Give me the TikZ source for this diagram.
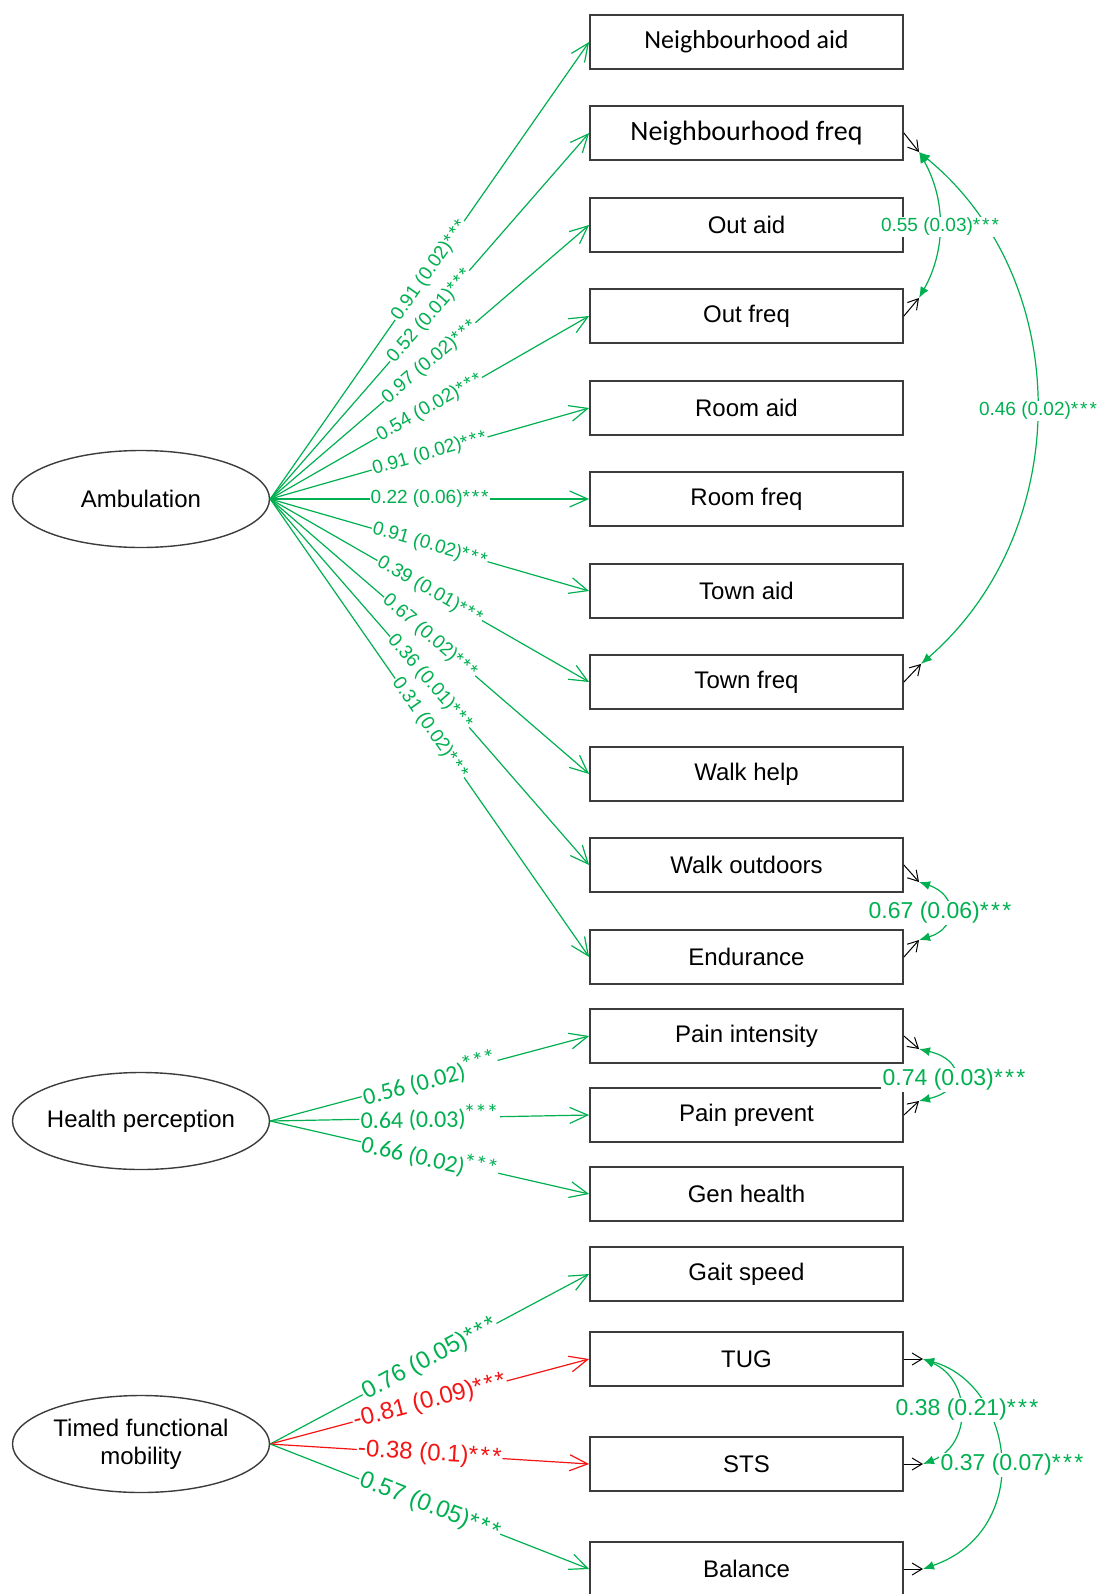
\documentclass[tikz,border=0pt]{standalone}
\usepackage{fontspec}
\setmainfont{Liberation Sans}
\newfontfamily\calib{Carlito}
\usetikzlibrary{arrows.meta,shapes.geometric}
\definecolor{sgreen}{RGB}{0,176,80}
\definecolor{sred}{RGB}{245,20,20}
\definecolor{boxgray}{RGB}{60,60,60}
\newcommand{\stars}{*\kern0.1em*\kern0.1em*}
\newcommand{\hstars}{\kern-0.08em\raisebox{0.22em}{*\kern-0.02em*\kern-0.02em*}}
\begin{document}
\begin{tikzpicture}[x=0.5pt,y=-0.5pt,
  obs/.style={draw=boxgray,line width=0.9pt,rectangle,minimum width=156.5pt,minimum height=27pt,inner sep=0pt,font=\fontsize{12}{14}\selectfont},
  lat/.style={draw=boxgray,line width=0.7pt,ellipse,minimum width=128.5pt,minimum height=48.5pt,inner sep=0pt,align=center,font=\fontsize{12}{14}\selectfont},
  load/.style={draw=sgreen,line width=0.6pt,-{Straight Barb[length=9pt,width=8pt]}},
  negload/.style={draw=sred,line width=0.6pt,-{Straight Barb[length=9pt,width=8pt]}},
  lab/.style={sloped,pos=0.5,fill=white,inner sep=0.6pt,text=sgreen},
  ambl/.style={lab,font=\fontsize{9.5}{11}\selectfont},
  hpl/.style={lab,font=\calib\fontsize{12}{14}\selectfont},
  tfl/.style={lab,font=\fontsize{12}{14}\selectfont},
  tfr/.style={tfl,text=sred},
  res/.style={draw=black,line width=0.5pt,-{Straight Barb[length=5pt,width=6pt]}},
  cov/.style={draw=sgreen,line width=0.6pt,{Latex[length=5.5pt,width=4.5pt]}-{Latex[length=5.5pt,width=4.5pt]}},
  covs/.style={fill=white,inner sep=0.6pt,text=sgreen,font=\fontsize{9.5}{11}\selectfont},
  covb/.style={fill=white,inner sep=0.6pt,text=sgreen,font=\fontsize{11.5}{13}\selectfont}
]
\useasboundingbox (0,0) rectangle (1101,1594);

% observed variables
\node[obs,font=\calib\fontsize{13}{15}\selectfont] (na) at (746.5,42) {Neighbourhood aid};
\node[obs,font=\calib\fontsize{14}{16}\selectfont] (nf) at (746.5,133) {Neighbourhood freq};
\node[obs] (oa) at (746.5,225) {Out aid};
\node[obs] (of) at (746.5,316) {Out freq};
\node[obs] (ra) at (746.5,408) {Room aid};
\node[obs] (rf) at (746.5,499) {Room freq};
\node[obs] (ta) at (746.5,591) {Town aid};
\node[obs] (tf) at (746.5,682) {Town freq};
\node[obs] (wh) at (746.5,774) {Walk help};
\node[obs] (wo) at (746.5,865) {Walk outdoors};
\node[obs] (en) at (746.5,957) {Endurance};
\node[obs] (pi) at (746.5,1036) {Pain intensity};
\node[obs] (pp) at (746.5,1115) {Pain prevent};
\node[obs] (gh) at (746.5,1194) {Gen health};
\node[obs] (gs) at (746.5,1274) {Gait speed};
\node[obs] (tug) at (746.5,1359) {TUG};
\node[obs] (sts) at (746.5,1464) {STS};
\node[obs] (bal) at (746.5,1569) {Balance};

% latent variables
\node[lat] (amb) at (141,499) {\makebox[80pt]{Ambulation}};
\node[lat] (hp) at (141,1121) {\makebox[80pt]{Health perception}};
\node[lat] (tfm) at (141,1444) {Timed functional\\mobility};

% loadings: Ambulation
\draw[load] (amb.east) -- node[ambl]{0.91 (0.02)\stars} (na.west);
\draw[load] (amb.east) -- node[ambl]{0.52 (0.01)\stars} (nf.west);
\draw[load] (amb.east) -- node[ambl]{0.97 (0.02)\stars} (oa.west);
\draw[load] (amb.east) -- node[ambl]{0.54 (0.02)\stars} (of.west);
\draw[load] (amb.east) -- node[ambl]{0.91 (0.02)\stars} (ra.west);
\draw[load] (amb.east) -- node[ambl]{0.22 (0.06)\stars} (rf.west);
\draw[load] (amb.east) -- node[ambl]{0.91 (0.02)\stars} (ta.west);
\draw[load] (amb.east) -- node[ambl]{0.39 (0.01)\stars} (tf.west);
\draw[load] (amb.east) -- node[ambl]{0.67 (0.02)\stars} (wh.west);
\draw[load] (amb.east) -- node[ambl]{0.36 (0.01)\stars} (wo.west);
\draw[load] (amb.east) -- node[ambl]{0.31 (0.02)\stars} (en.west);

% loadings: Health perception
\draw[load] (hp.east) -- node[hpl]{0.56 (0.02)\hstars} (pi.west);
\draw[load] (hp.east) -- node[hpl]{0.64 (0.03)\hstars} (pp.west);
\draw[load] (hp.east) -- node[hpl]{0.66 (0.02)\hstars} (gh.west);

% loadings: Timed functional mobility
\draw[load] (tfm.east) -- node[tfl]{0.76 (0.05)\stars} (gs.west);
\draw[negload] (tfm.east) -- node[tfr]{-0.81 (0.09)\stars} (tug.west);
\draw[negload] (tfm.east) -- node[tfr]{-0.38 (0.1)\stars} (sts.west);
\draw[load] (tfm.east) -- node[tfl]{0.57 (0.05)\stars} (bal.west);

% residual stubs
\coordinate (cNf) at (919,152);
\coordinate (cOf) at (919,298);
\coordinate (cTf) at (921,664);
\coordinate (cWo) at (919,882);
\coordinate (cEn) at (919,940);
\coordinate (cPi) at (919,1049);
\coordinate (cPp) at (919,1101);
\coordinate (cTug) at (923,1359);
\coordinate (cSts) at (923,1464);
\coordinate (cBal) at (923,1569);
\draw[res] (nf.east) -- (cNf);
\draw[res] (of.east) -- (cOf);
\draw[res] (tf.east) -- (cTf);
\draw[res] (wo.east) -- (cWo);
\draw[res] (en.east) -- (cEn);
\draw[res] (pi.east) -- (cPi);
\draw[res] (pp.east) -- (cPp);
\draw[res] (tug.east) -- (cTug);
\draw[res] (sts.east) -- (cSts);
\draw[res] (bal.east) -- (cBal);

% covariances
\draw[cov] (cNf) .. controls (946,200) and (946,250) .. (cOf);
\draw[cov] (cNf) .. controls (1075,280) and (1075,530) .. (cTf);
\draw[cov] (cWo) .. controls (958,895) and (958,928) .. (cEn);
\draw[cov] (cPi) .. controls (965,1060) and (965,1090) .. (cPp);
\draw[cov] (cTug) .. controls (972,1380) and (972,1445) .. (cSts);
\draw[cov] (cTug) .. controls (1015,1385) and (1035,1530) .. (cBal);

\node[covs] (k1) at (940,227) {0.55 (0.03)\stars};
\node[covs] (k2) at (1038,411) {0.46 (0.02)\stars};
\node[covb] (k3) at (940,913) {0.67 (0.06)\stars};
\node[covb] (k4) at (954,1080) {0.74 (0.03)\stars};
\node[covb] (k5) at (967,1410) {0.38 (0.21)\stars};
\node[covb] (k6) at (1012,1465) {0.37 (0.07)\stars};
\end{tikzpicture}
\end{document}
